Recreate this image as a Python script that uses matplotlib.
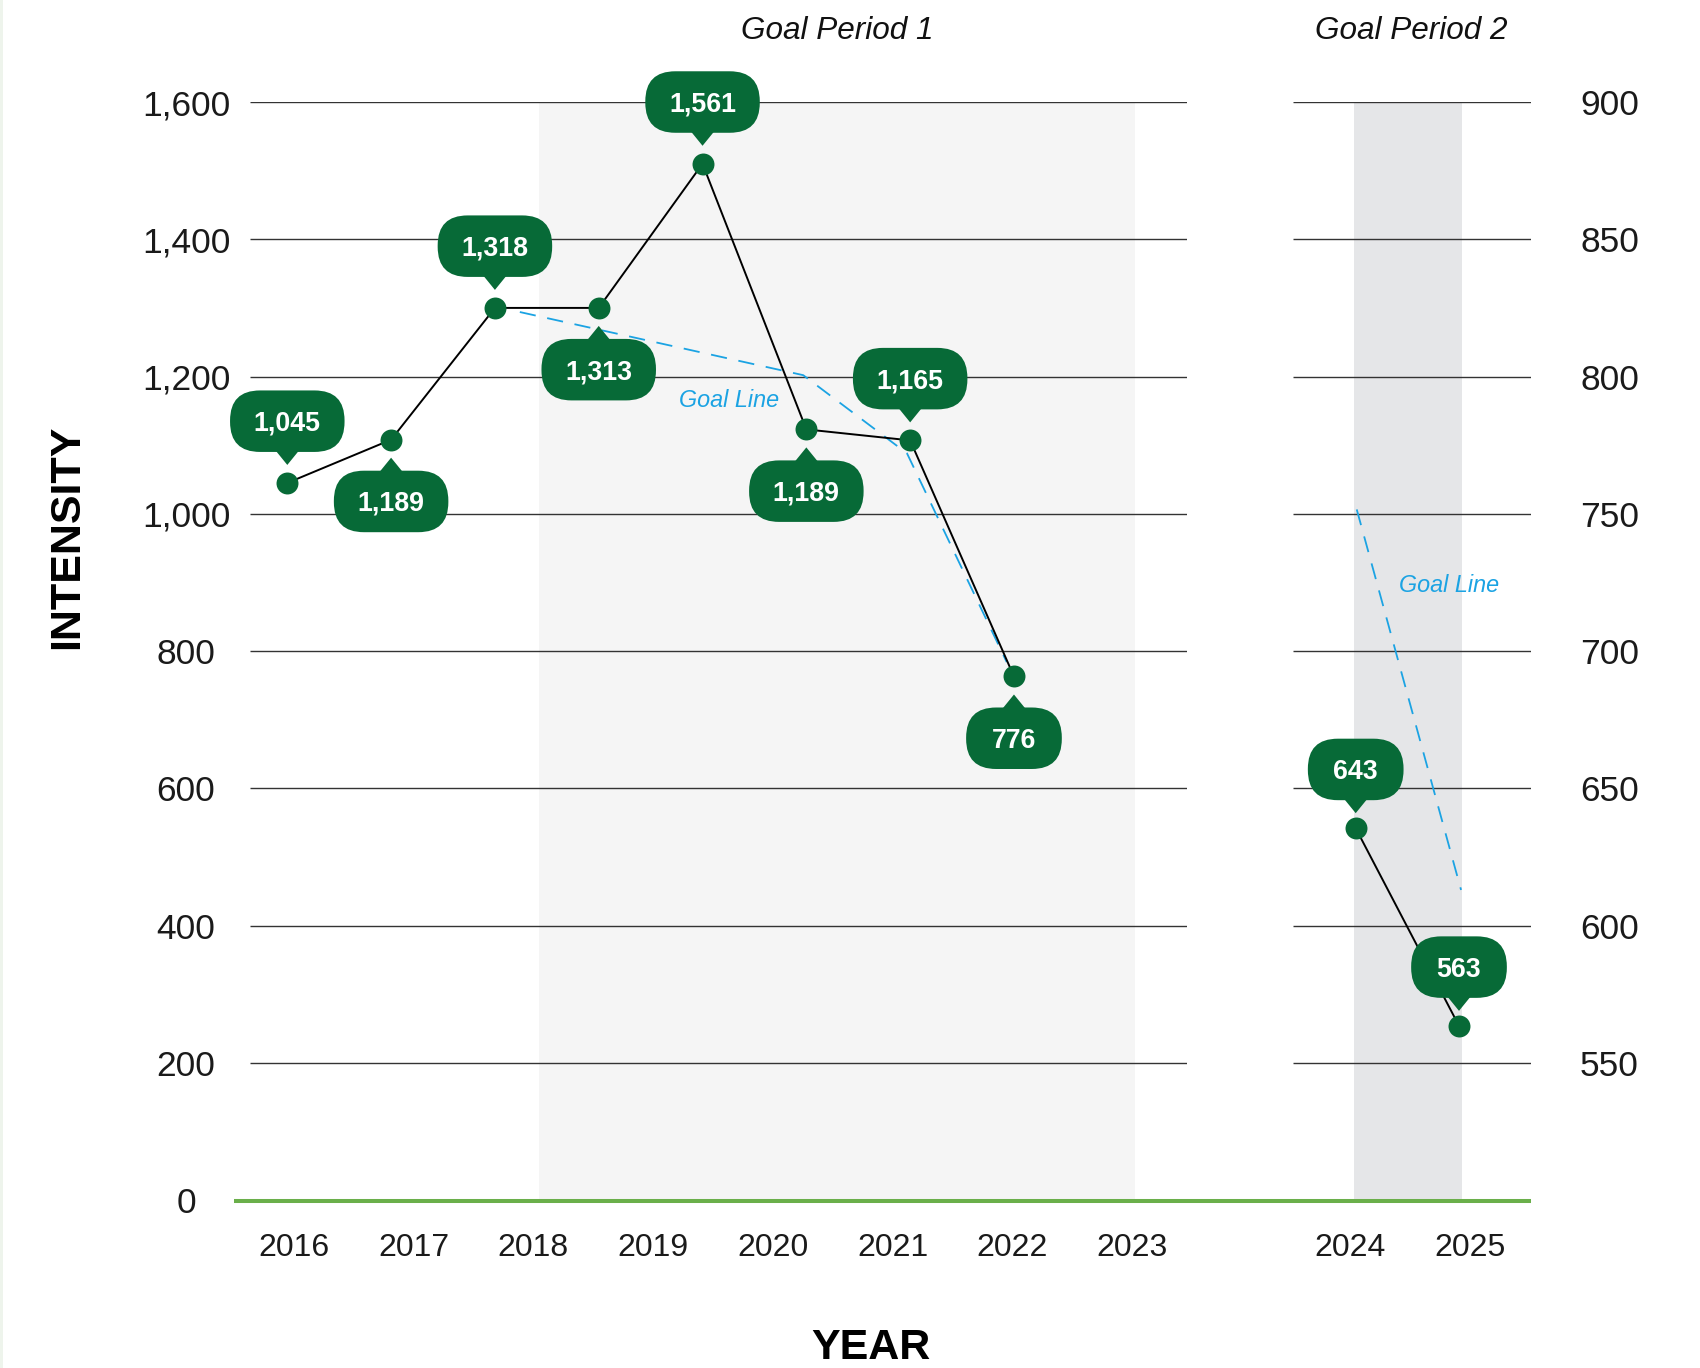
import matplotlib
matplotlib.use('Agg')
import matplotlib.pyplot as plt
from matplotlib.patches import FancyBboxPatch, Polygon, Rectangle
from matplotlib.lines import Line2D
from matplotlib.transforms import IdentityTransform

# ---------------- data ----------------
years1 = ['2016', '2017', '2018', '2019', '2020', '2021', '2022', '2023']
years2 = ['2024', '2025']
values1 = [1045, 1108, 1300, 1300, 1510, 1123, 1107, 763]
labels1 = ['1,045', '1,189', '1,318', '1,313', '1,561', '1,189', '1,165', '776']
above1 = [True, False, True, False, True, False, True, False]
values2 = [635.5, 563.5]
labels2 = ['643', '563']
above2 = [True, True]
goal1_slot = [2.24, 4.97, 5.97, 6.93]
goal1_val = [1294, 1202, 1088, 784]
goal2_slot = [0.01, 1.02]
goal2_val = [751.6, 613.0]
left_ticks = [0, 200, 400, 600, 800, 1000, 1200, 1400, 1600]
right_ticks = [550, 600, 650, 700, 750, 800, 850, 900]

# ---------------- style ----------------
GREEN = '#076a37'
BLUE = '#1ba3e3'
GRID = '#333333'
SHADE1 = '#f5f5f5'
SHADE2 = '#e5e6e8'
BASE = '#6aaf4a'
plt.rcParams['font.family'] = ['Liberation Sans', 'DejaVu Sans']

W, H, DPI = 1700, 1368, 100
fig = plt.figure(figsize=(W / DPI, H / DPI), dpi=DPI)
fig.patch.set_facecolor('white')


def px_rect(x0, y0, x1, y1):
    return [x0 / W, 1 - y1 / H, (x1 - x0) / W, (y1 - y0) / H]


TOP, BOT = 102.0, 1200.2
ax1 = fig.add_axes(px_rect(250, TOP, 1187, BOT))
ax2 = fig.add_axes(px_rect(1293, TOP, 1531, BOT))

for ax in (ax1, ax2):
    for s in ax.spines.values():
        s.set_visible(False)
    ax.set_facecolor('none')
    ax.tick_params(length=0)

# ---- period 1 axes ----
ax1.set_xlim(-0.3676, 7.4603)
ax1.set_ylim(0, 1600)
ax1.axvspan(2.047, 7.026, color=SHADE1, zorder=0, lw=0)
ax1.hlines([t for t in left_ticks if t > 0], -0.3676, 7.4603, color=GRID, lw=1.0, zorder=1)
ax1.set_yticks(left_ticks)
ax1.set_yticklabels([f'{t:,}' for t in left_ticks], fontsize=25.5, color='#1a1a1a')
ax1.tick_params(axis='y', pad=46)
for t in ax1.get_yticklabels():
    t.set_ha('center')
ax1.set_xticks(range(len(years1)))
ax1.set_xticklabels(years1, fontsize=23, color='#1a1a1a')

# ---- period 2 axes ----
ax2.set_xlim(-0.4766, 1.5134)
ax2.set_ylim(500, 900)
ax2.axvspan(0.033, 0.936, color=SHADE2, zorder=0, lw=0)
ax2.hlines(right_ticks, -0.4766, 1.5134, color=GRID, lw=1.0, zorder=1)
ax2.yaxis.tick_right()
ax2.set_yticks(right_ticks)
ax2.set_yticklabels([f'{t:,}' for t in right_ticks], fontsize=25.5, color='#1a1a1a')
ax2.tick_params(axis='y', pad=56.5)
for t in ax2.get_yticklabels():
    t.set_ha('center')
ax2.set_xticks(range(len(years2)))
ax2.set_xticklabels(years2, fontsize=23, color='#1a1a1a')

for ax in (ax1, ax2):
    ax.tick_params(axis='x', pad=34.5)
    for t in ax.get_xticklabels():
        t.set_va('center')

# ---- point axes (twins) ----
ax1p = ax1.twiny()
ax1p.set_xlim(-0.3593, 8.6668)
ax2p = ax2.twiny()
ax2p.set_xlim(-0.607, 1.697)
for ax in (ax1p, ax2p):
    ax.set_xticks([])
    for s in ax.spines.values():
        s.set_visible(False)

DASH = (9.0, 6.5)
ax1p.plot(goal1_slot, goal1_val, color=BLUE, lw=1.3, dashes=DASH, zorder=2)
ax1p.plot(range(len(values1)), values1, color='black', lw=1.4, zorder=3)
ax1p.plot(range(len(values1)), values1, 'o', ms=15.8, color=GREEN, mec='none', zorder=4)
ax1p.text(4.255, 1165.8, 'Goal Line', color=BLUE, style='italic', fontsize=16.8,
          ha='center', va='center', zorder=4)

ax2p.plot(goal2_slot, goal2_val, color=BLUE, lw=1.3, dashes=DASH, zorder=2)
ax2p.plot(range(len(values2)), values2, color='black', lw=1.4, zorder=3)
ax2p.plot(range(len(values2)), values2, 'o', ms=15.8, color=GREEN, mec='none', zorder=4)
ax2p.text(0.903, 723.9, 'Goal Line', color=BLUE, style='italic', fontsize=16.8,
          ha='center', va='center', zorder=4)


# ---- callouts ----
def callout(ax, x, y, text, above, tip_gap=18.0):
    px, py = ax.transData.transform((x, y))
    w = 67.5 + 9.4 * len(text)
    h = 61.5
    ptr_h, ptr_w = 13.0, 26.0
    s = 1 if above else -1
    tip_y = py + s * tip_gap
    base_y = tip_y + s * ptr_h
    y0 = base_y if above else base_y - h
    box = FancyBboxPatch((px - w / 2, y0), w, h,
                         boxstyle='round,pad=0,rounding_size=30',
                         transform=IdentityTransform(), fc=GREEN, ec='none', zorder=6)
    tri = Polygon([(px - ptr_w / 2, base_y + s * 3), (px + ptr_w / 2, base_y + s * 3),
                   (px, tip_y)], closed=True, transform=IdentityTransform(),
                  fc=GREEN, ec='none', zorder=6)
    fig.add_artist(box)
    fig.add_artist(tri)
    fig.text(px / W, (y0 + h / 2 - 2.5) / H, text, color='white', fontsize=19.3,
             fontweight='bold', ha='center', va='center', zorder=7)


for i, (v, lab, ab) in enumerate(zip(values1, labels1, above1)):
    callout(ax1p, i, v, lab, ab)
for i, (v, lab, ab) in enumerate(zip(values2, labels2, above2)):
    callout(ax2p, i, v, lab, ab, tip_gap=15.0)

# ---- baseline, titles ----
fig.add_artist(Line2D([234 / W, 1531 / W], [1 - 1200.5 / H] * 2, transform=fig.transFigure,
                      color=BASE, lw=2.9, zorder=5, solid_capstyle='butt'))
fig.add_artist(Rectangle((0, 0), 3 / W, 1, transform=fig.transFigure,
                         fc='#eef4ec', ec='none', zorder=5))

fig.text(837 / W, 1 - 31 / H, 'Goal Period 1', style='italic', fontsize=22.7,
         ha='center', va='center', color='#111111')
fig.text(1411.5 / W, 1 - 31 / H, 'Goal Period 2', style='italic', fontsize=22.7,
         ha='center', va='center', color='#111111')
fig.text(67.5 / W, 1 - 537 / H, 'INTENSITY', rotation=90, fontsize=31, fontweight='bold',
         ha='center', va='center', color='#000000')
fig.text(870.6 / W, 1 - 1347.7 / H, 'YEAR', fontsize=31, fontweight='bold',
         ha='center', va='center', color='#000000')

fig.savefig('out.png', dpi=DPI, facecolor='white')
